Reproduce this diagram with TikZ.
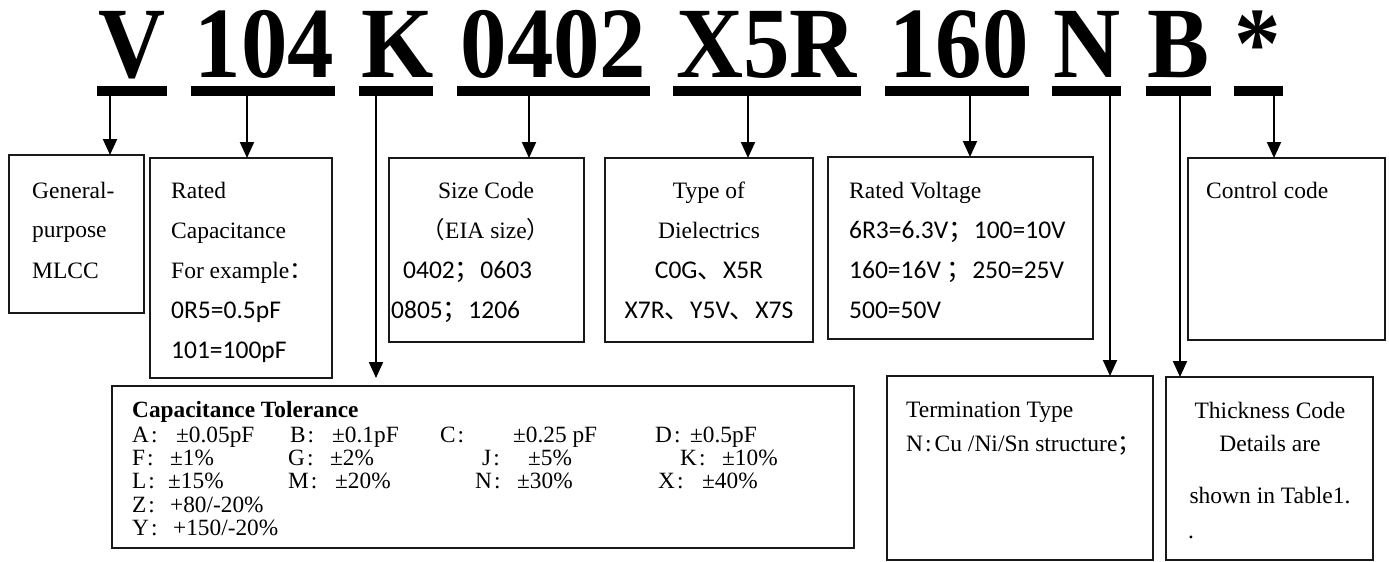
\documentclass[tikz,border=0pt]{standalone}
\usepackage{fontspec}
\setmainfont{Liberation Serif}
\newfontfamily\calfont{Carlito}
\newfontfamily\cjkfont{Noto Sans CJK SC}
\usetikzlibrary{arrows.meta}
\newcommand\zcolon{{\cjkfont ：}}
\newcommand\tcolon{\kern2pt:\kern3pt}
\newcommand\zsemi{{\cjkfont ；}}
\newcommand\zdun{{\cjkfont 、}}
\newcommand\zlp{{\cjkfont （}}
\newcommand\zrp{{\cjkfont ）}}
\newcommand\ttlbox[1]{\scalebox{0.92}[1]{#1}}
\newcommand\tolitem[3]{\makebox[#1][l]{#2\tcolon}#3}
\begin{document}
\begin{tikzpicture}[x=1pt,y=-1pt,
  box/.style={draw=black!90, line width=1.6pt, inner sep=0pt, outer sep=0pt, anchor=north west},
  bar/.style={fill=black, inner sep=0pt, outer sep=0pt, minimum height=10pt, anchor=north west},
  arr/.style={line width=2pt, -{Triangle[width=14pt,length=16pt]}},
  ttl/.style={inner sep=0pt, anchor=base, font=\fontsize{101}{101}\selectfont\bfseries},
  txt/.style={inner sep=0pt, anchor=base west, font=\fontsize{23.5}{28}\selectfont},
  ctxt/.style={txt, anchor=base},
  code/.style={inner sep=0pt, anchor=base west, font=\fontsize{25.5}{30}\selectfont\calfont},
  ccode/.style={code, anchor=base},
  tol/.style={inner sep=0pt, anchor=base west, font=\fontsize{23.3}{23}\selectfont},
]
\useasboundingbox (0,0) rectangle (1389,562);
\fill[white] (0,0) rectangle (1389,562);

% title
\node[ttl] (cV)   at (132.5,77) {\ttlbox{V}};
\node[ttl] (c104) at (264.5,77) {\ttlbox{104}};
\node[ttl] (cK)   at (397.5,77) {\ttlbox{K}};
\node[ttl] (c0402) at (553.5,77) {\ttlbox{0402}};
\node[ttl] (cX)   at (766.5,77) {\ttlbox{X5R}};
\node[ttl] (c160) at (959,77) {\ttlbox{160}};
\node[ttl] (cN)   at (1087.5,77) {\ttlbox{N}};
\node[ttl] (cB)   at (1178,77) {\ttlbox{B}};
\node[ttl] (cS)   at (1257.5,77) {\ttlbox{*}};

% bars
\node[bar, minimum width=70pt]  (barV)   at (97,86) {};
\node[bar, minimum width=144pt] (bar104) at (191,86) {};
\node[bar, minimum width=74pt]  (barK)   at (359,86) {};
\node[bar, minimum width=193pt] (bar0402) at (457,86) {};
\node[bar, minimum width=188pt] (barX)   at (673,86) {};
\node[bar, minimum width=144pt] (bar160) at (885,86) {};
\node[bar, minimum width=69pt]  (barN)   at (1052,86) {};
\node[bar, minimum width=65pt]  (barB)   at (1146,86) {};
\node[bar, minimum width=49pt]  (barS)   at (1234,86) {};

% boxes
\node[box, minimum width=135pt, minimum height=158pt] (boxG) at (9,155) {};
\node[box, minimum width=182pt, minimum height=220pt] (boxR) at (150,158) {};
\node[box, minimum width=195pt, minimum height=184pt] (boxS) at (389,158) {};
\node[box, minimum width=208pt, minimum height=184pt] (boxT) at (605,158) {};
\node[box, minimum width=265pt, minimum height=182pt] (boxV) at (828,157) {};
\node[box, minimum width=197pt, minimum height=182pt] (boxC) at (1188,158) {};
\node[box, minimum width=742pt, minimum height=162pt] (boxTol) at (112,386) {};
\node[box, minimum width=266pt, minimum height=184pt] (boxTerm) at (887,376) {};
\node[box, minimum width=207pt, minimum height=183pt] (boxTh) at (1166,377) {};

% arrows
\coordinate (aV) at (110,0);
\coordinate (a104) at (247,0);
\coordinate (aK) at (376,0);
\coordinate (a0402) at (529,0);
\coordinate (aX) at (748,0);
\coordinate (a160) at (970,0);
\coordinate (aN) at (1110,0);
\coordinate (aB) at (1180,0);
\coordinate (aS) at (1274,0);
\draw[arr] (aV |- barV.south) -- (aV |- boxG.north);
\draw[arr] (a104 |- bar104.south) -- (a104 |- boxR.north);
\draw[arr, shorten >=8pt] (aK |- barK.south) -- (aK |- boxTol.north);
\draw[arr] (a0402 |- bar0402.south) -- (a0402 |- boxS.north);
\draw[arr] (aX |- barX.south) -- (aX |- boxT.north);
\draw[arr] (a160 |- bar160.south) -- (a160 |- boxV.north);
\draw[arr] (aN |- barN.south) -- (aN |- boxTerm.north);
\draw[arr] (aB |- barB.south) -- (aB |- boxTh.north);
\draw[arr] (aS |- barS.south) -- (aS |- boxC.north);

% General
\node[txt] (tG1) at (32,198) {General-};
\node[txt] (tG2) at (32,237) {purpose};
\node[txt] (tG3) at (32,278) {MLCC};
% Rated capacitance
\node[txt] (tR1) at (171,198) {Rated};
\node[txt] (tR2) at (171,238) {Capacitance};
\node[txt] (tR3) at (171,278) {For example\zcolon};
\node[code] (tR4) at (171,318) {0R5=0.5pF};
\node[code] (tR5) at (171,358) {101=100pF};
% Size
\node[ctxt] (tS1) at (486,198) {Size Code};
\node[ctxt] (tS2) at (486,238) {\zlp EIA size\zrp};
\node[code] (tS3) at (403,278) {0402\zsemi 0603};
\node[code] (tS4) at (391,318) {0805\zsemi 1206};
% Type
\node[ctxt] (tT1) at (709,198) {Type of};
\node[ctxt] (tT2) at (709,238) {Dielectrics};
\node[ccode] (tT3) at (709,278) {C0G\zdun X5R};
\node[ccode] (tT4) at (709,318) {X7R\zdun Y5V\zdun X7S};
% Voltage
\node[txt] (tV1) at (849,198) {Rated Voltage};
\node[code] (tV2) at (849,238) {6R3=6.3V\zsemi 100=10V};
\node[code] (tV3) at (849,278) {160=16V \zsemi 250=25V};
\node[code] (tV4) at (849,318) {500=50V};
% Control
\node[txt] (tC1) at (1206,198) {Control code};
% Termination
\node[txt] (tE1) at (906,417) {Termination Type};
\node[txt] (tE2) at (906,451) {N\tcolon Cu /Ni/Sn structure\zsemi};
% Thickness
\node[ctxt] (tH1) at (1270,418) {Thickness Code};
\node[ctxt] (tH2) at (1270,451) {Details are};
\node[ctxt] (tH3) at (1270,503) {shown in Table1.};
\node[txt] (tH4) at (1188,538) {.};
% Tolerance
\node[tol, font=\fontsize{23.3}{23}\selectfont\bfseries] (tL0) at (132,417) {Capacitance Tolerance};
\node[tol] (iA) at (132,442) {\tolitem{44pt}{A}{±0.05pF}};
\node[tol] (iB) at (290,442) {\tolitem{42pt}{B}{±0.1pF}};
\node[tol] (iC) at (440,442) {\tolitem{73pt}{C}{±0.25 pF}};
\node[tol] (iD) at (655,442) {\tolitem{35pt}{D}{±0.5pF}};
\node[tol] (iF) at (132,465) {\tolitem{38pt}{F}{±1\%}};
\node[tol] (iG) at (288,465) {\tolitem{42pt}{G}{±2\%}};
\node[tol] (iJ) at (482,465) {\tolitem{46pt}{J}{±5\%}};
\node[tol] (iK) at (680,465) {\tolitem{42pt}{K}{±10\%}};
\node[tol] (iL) at (132,488) {\tolitem{36pt}{L}{±15\%}};
\node[tol] (iM) at (288,488) {\tolitem{47pt}{M}{±20\%}};
\node[tol] (iN) at (475,488) {\tolitem{42pt}{N}{±30\%}};
\node[tol] (iX) at (658,488) {\tolitem{44pt}{X}{±40\%}};
\node[tol] (iZ) at (132,512) {\tolitem{38pt}{Z}{+80/-20\%}};
\node[tol] (iY) at (132,535) {\tolitem{41pt}{Y}{+150/-20\%}};
\end{tikzpicture}
\end{document}
